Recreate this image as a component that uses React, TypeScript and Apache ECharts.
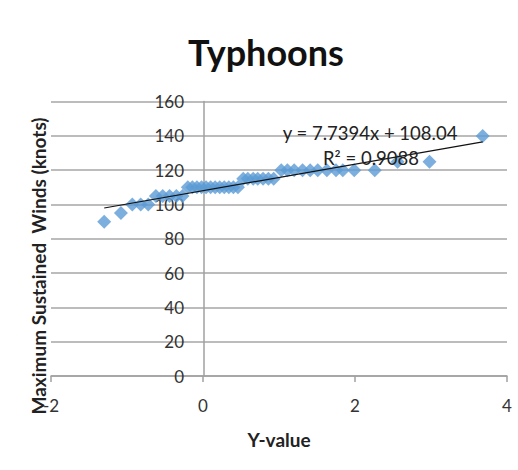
import React, { useEffect, useRef } from "react";
import * as echarts from "echarts";

const titleText = "Typhoons";
const xAxisTitle = "Y-value";
const yAxisTitle = "Maximum Sustained  Winds (knots)";

const xValues: number[] = [
  -1.3, -1.08, -0.93, -0.82, -0.72,
  -0.62, -0.53, -0.44, -0.35, -0.27,
  -0.2, -0.14, -0.08, -0.02, 0.04, 0.1, 0.16, 0.22, 0.28, 0.34, 0.4, 0.46,
  0.53, 0.59, 0.66, 0.72, 0.79, 0.86, 0.93,
  1.03, 1.11, 1.2, 1.31, 1.41, 1.51, 1.63, 1.75, 1.84, 1.99, 2.26,
  2.56, 2.98, 3.68,
];
const windValues: number[] = [
  90, 95, 100, 100, 100,
  105, 105, 105, 105, 105,
  110, 110, 110, 110, 110, 110, 110, 110, 110, 110, 110, 110,
  115, 115, 115, 115, 115, 115, 115,
  120, 120, 120, 120, 120, 120, 120, 120, 120, 120, 120,
  125, 125, 140,
];

const trendSlope = 7.7394;
const trendIntercept = 108.04;
const trendR2 = 0.9088;

const xTicks = { min: -2, max: 4, interval: 2 };
const yTicks = { min: 0, max: 160, interval: 20 };

export default function App() {
  const ref = useRef<HTMLDivElement>(null);
  useEffect(() => {
    document.body.style.margin = "0";
    const chart = echarts.init(ref.current!, undefined, { renderer: "svg" });
    const pts = xValues.map((x, i) => [x, windValues[i]]);
    const xmin = Math.min(...xValues);
    const xmax = Math.max(...xValues);
    const trend = [
      [xmin, trendSlope * xmin + trendIntercept],
      [xmax, trendSlope * xmax + trendIntercept],
    ];
    const font = "Lato, 'Open Sans', sans-serif";
    const gridLeft = 51;
    chart.setOption({
      animation: false,
      backgroundColor: "#ffffff",
      grid: { left: gridLeft, right: 11, top: 101.6, bottom: 94 },
      xAxis: {
        type: "value",
        min: xTicks.min,
        max: xTicks.max,
        interval: xTicks.interval,
        name: xAxisTitle,
        nameLocation: "middle",
        nameGap: 54,
        nameTextStyle: { fontFamily: font, fontWeight: "bold", fontSize: 19, color: "#222" },
        axisLine: { show: true, onZero: false, lineStyle: { color: "#a0a0a0", width: 1.5 } },
        axisTick: { show: true, length: 6, lineStyle: { color: "#a0a0a0", width: 1.5 } },
        axisLabel: { fontFamily: font, fontSize: 17, color: "#333", margin: 21 },
        splitLine: { show: false },
      },
      yAxis: {
        type: "value",
        min: yTicks.min,
        max: yTicks.max,
        interval: yTicks.interval,
        axisLine: { show: true, onZero: false, lineStyle: { color: "#a0a0a0", width: 1.5 } },
        axisTick: { show: false },
        axisLabel: { fontFamily: font, fontSize: 17, color: "#333", margin: 20 },
        splitLine: { show: true, lineStyle: { color: "#a6a6a6", width: 1.5 } },
      },
      graphic: [
        {
          type: "text",
          x: 266,
          y: 52,
          style: {
            text: titleText,
            fontFamily: font,
            fontWeight: "bold",
            fontSize: 36,
            fill: "#111",
            textAlign: "center",
            textVerticalAlign: "middle",
          },
        },
        {
          type: "text",
          x: 38,
          y: 266,
          rotation: Math.PI / 2,
          style: {
            text: yAxisTitle,
            fontFamily: font,
            fontWeight: "bold",
            fontSize: 19,
            fill: "#222",
            textAlign: "center",
            textVerticalAlign: "middle",
          },
        },
        {
          type: "text",
          x: 370,
          y: 133,
          z: 10,
          style: {
            text: `y = ${trendSlope}x + ${trendIntercept}`,
            fontFamily: font,
            fontSize: 18.5,
            fill: "#222",
            textAlign: "center",
            textVerticalAlign: "middle",
          },
        },
        {
          type: "text",
          x: 371,
          y: 158,
          z: 10,
          style: {
            text: `R² = ${trendR2}`,
            fontFamily: font,
            fontSize: 18.5,
            fill: "#222",
            textAlign: "center",
            textVerticalAlign: "middle",
          },
        },
      ],
      series: [
        {
          type: "scatter",
          data: pts,
          symbol: "diamond",
          symbolSize: 14,
          itemStyle: { color: "#5b9bd5" },
          z: 2,
        },
        {
          type: "line",
          data: trend,
          symbol: "none",
          lineStyle: { color: "#111", width: 1.2 },
          z: 3,
        },
      ],
    });
    const zeroPx = chart.convertToPixel({ xAxisIndex: 0 }, 0) as number;
    chart.setOption({ yAxis: { offset: -(zeroPx - gridLeft) } });
    return () => chart.dispose();
  }, []);
  return <div ref={ref} style={{ width: 518, height: 470 }} />;
}
